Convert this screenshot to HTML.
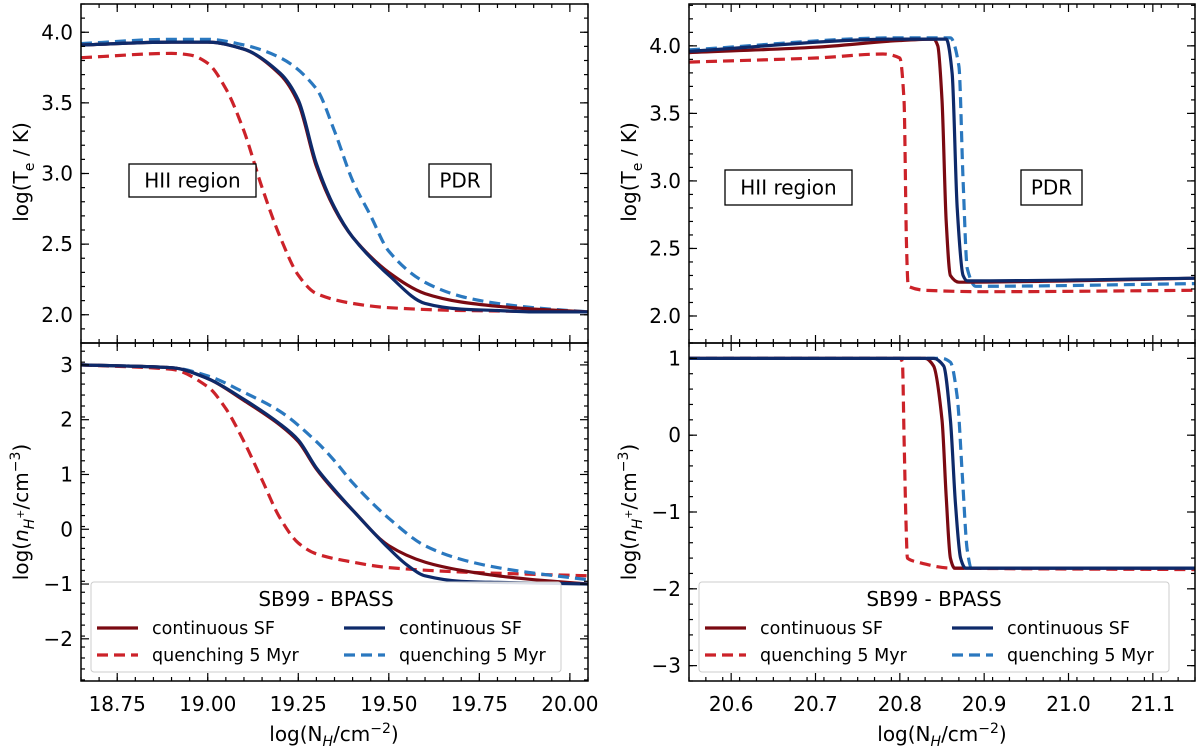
<!DOCTYPE html>
<html><head><meta charset="utf-8"><style>
body{margin:0;background:#fff;width:1200px;height:751px;overflow:hidden}
svg{font-family:"DejaVu Sans","Liberation Sans",sans-serif}
</style></head><body>
<svg id="fig" width="1200" height="751" viewBox="0 0 1200 751" xmlns="http://www.w3.org/2000/svg"></svg>
<script>
// ---- data ----
const lt_redSolid_x=[18.65,18.9,19.0,19.1,19.2,19.25,19.3,19.35,19.4,19.5,19.6,19.7,19.8,19.9,20.05];
const lt_redSolid_y=[3.91,3.93,3.93,3.88,3.7,3.5,3.05,2.75,2.55,2.3,2.15,2.09,2.06,2.04,2.02];
const lt_navy_x=[18.65,18.9,19.0,19.1,19.2,19.25,19.3,19.35,19.4,19.5,19.6,19.7,19.8,19.9,20.05];
const lt_navy_y=[3.91,3.93,3.93,3.88,3.71,3.52,3.07,2.76,2.55,2.28,2.08,2.04,2.03,2.02,2.02];
const lt_blueDash_x=[18.65,18.9,19.0,19.1,19.2,19.3,19.35,19.4,19.45,19.5,19.6,19.7,19.8,19.9,20.05];
const lt_blueDash_y=[3.92,3.95,3.95,3.91,3.82,3.6,3.3,2.95,2.7,2.45,2.23,2.13,2.08,2.05,2.02];
const lt_redDash_x=[18.65,18.9,18.95,19.0,19.05,19.1,19.15,19.2,19.25,19.3,19.4,19.5,19.7,20.05];
const lt_redDash_y=[3.82,3.85,3.84,3.78,3.6,3.3,2.9,2.55,2.28,2.15,2.08,2.05,2.03,2.02];

const lb_redSolid_x=[18.65,18.9,19.0,19.1,19.2,19.25,19.3,19.35,19.4,19.5,19.6,19.7,19.8,19.9,20.05];
const lb_redSolid_y=[3,2.95,2.75,2.35,1.9,1.6,1.1,0.7,0.35,-0.3,-0.6,-0.75,-0.85,-0.92,-1.0];
const lb_navy_x=[18.65,18.9,19.0,19.1,19.2,19.25,19.3,19.35,19.4,19.5,19.55,19.6,19.7,19.8,20.05];
const lb_navy_y=[3,2.95,2.75,2.37,1.92,1.63,1.12,0.72,0.35,-0.35,-0.65,-0.85,-0.95,-0.97,-1.0];
const lb_blueDash_x=[18.65,18.9,19.0,19.1,19.2,19.3,19.35,19.4,19.5,19.6,19.7,19.8,19.9,20.05];
const lb_blueDash_y=[3,2.95,2.8,2.5,2.15,1.6,1.25,0.85,0.2,-0.3,-0.55,-0.7,-0.8,-0.92];
const lb_redDash_x=[18.65,18.9,19.0,19.05,19.1,19.15,19.2,19.25,19.3,19.4,19.5,19.7,20.05];
const lb_redDash_y=[3,2.92,2.6,2.2,1.6,0.9,0.2,-0.25,-0.45,-0.6,-0.7,-0.78,-0.85];

const rt_redSolid_x=[20.55,20.7,20.8,20.84,20.845,20.85,20.855,20.86,20.87,21.0,21.15];
const rt_redSolid_y=[3.95,3.99,4.04,4.05,4.0,3.6,2.7,2.3,2.25,2.26,2.28];
const rt_navy_x=[20.55,20.8,20.855,20.862,20.868,20.875,20.88,21.15];
const rt_navy_y=[3.96,4.05,4.05,3.8,2.8,2.3,2.26,2.28];
const rt_blueDash_x=[20.55,20.8,20.86,20.87,20.875,20.88,20.89,21.15];
const rt_blueDash_y=[3.97,4.06,4.06,3.85,3.0,2.35,2.22,2.24];
const rt_redDash_x=[20.55,20.7,20.78,20.8,20.805,20.808,20.81,20.83,20.9,21.15];
const rt_redDash_y=[3.88,3.91,3.94,3.91,3.6,2.5,2.22,2.19,2.18,2.19];

const rb_redSolid_x=[20.55,20.83,20.84,20.85,20.855,20.86,20.865,21.15];
const rb_redSolid_y=[1,1,0.9,0.2,-0.8,-1.6,-1.73,-1.73];
const rb_navy_x=[20.55,20.84,20.852,20.86,20.866,20.872,20.878,21.15];
const rb_navy_y=[1,1,0.9,0.2,-0.9,-1.6,-1.73,-1.73];
const rb_blueDash_x=[20.55,20.85,20.86,20.868,20.874,20.88,20.885,21.15];
const rb_blueDash_y=[1,1,0.95,0.5,-0.5,-1.5,-1.73,-1.73];
const rb_redDash_x=[20.55,20.8,20.803,20.805,20.807,20.809,20.82,20.86,21.15];
const rb_redDash_y=[1,1,0.95,0,-1.0,-1.6,-1.65,-1.73,-1.75];

const leftXTicks=[18.75,19.0,19.25,19.5,19.75,20.0];
const leftXLabels=["18.75","19.00","19.25","19.50","19.75","20.00"];
const rightXTicks=[20.6,20.7,20.8,20.9,21.0,21.1];
const rightXLabels=["20.6","20.7","20.8","20.9","21.0","21.1"];
const ltYTicks=[2.0,2.5,3.0,3.5,4.0];
const ltYLabels=["2.0","2.5","3.0","3.5","4.0"];
const lbYTicks=[-2,-1,0,1,2,3];
const lbYLabels=["\u22122","\u22121","0","1","2","3"];
const rtYTicks=[2.0,2.5,3.0,3.5,4.0];
const rtYLabels=["2.0","2.5","3.0","3.5","4.0"];
const rbYTicks=[-3,-2,-1,0,1];
const rbYLabels=["\u22123","\u22122","\u22121","0","1"];

const COL={redSolid:"#7a0a12",navy:"#0e2a6a",redDash:"#cc2229",blueDash:"#2a78bf"};
const NS="http://www.w3.org/2000/svg";
const svg=document.getElementById('fig');
function mk(tag,attrs,parent){const e=document.createElementNS(NS,tag);for(const k in attrs)e.setAttribute(k,attrs[k]);(parent||svg).appendChild(e);return e;}

function monoPath(X,Y){
  const n=X.length;const d=[],m=[];
  for(let i=0;i<n-1;i++)d.push((Y[i+1]-Y[i])/(X[i+1]-X[i]));
  m[0]=d[0];m[n-1]=d[n-2];
  for(let i=1;i<n-1;i++){if(d[i-1]*d[i]<=0)m[i]=0;else m[i]=2/(1/d[i-1]+1/d[i]);}
  let p='M'+X[0].toFixed(1)+','+Y[0].toFixed(1);
  for(let i=0;i<n-1;i++){const h=X[i+1]-X[i];
    p+=' C'+(X[i]+h/3).toFixed(1)+','+(Y[i]+m[i]*h/3).toFixed(1)+' '+(X[i+1]-h/3).toFixed(1)+','+(Y[i+1]-m[i+1]*h/3).toFixed(1)+' '+X[i+1].toFixed(1)+','+Y[i+1].toFixed(1);}
  return p;
}

function panel(name,box,xd,yd,xt,xl,yt,yl,xmin,ymin,series,showX){
  const g=mk('g',{});
  
  
  const sx=v=>box.x0+(v-xd[0])/(xd[1]-xd[0])*(box.x1-box.x0);
  const sy=v=>box.y1-(v-yd[0])/(yd[1]-yd[0])*(box.y1-box.y0);
  const cid=name+'-clip';
  const cp=mk('clipPath',{id:cid},g);mk('rect',{x:box.x0,y:box.y0,width:box.x1-box.x0,height:box.y1-box.y0},cp);
  for(const s of series){
    const p=mk('path',{d:monoPath(s.x.map(sx),s.y.map(sy)),fill:'none',stroke:COL[s.c],'stroke-width':3.2,'clip-path':'url(#'+cid+')','stroke-linejoin':'round'},g);
    if(s.c.indexOf('Dash')>=0)p.setAttribute('stroke-dasharray','11,6');
    
    
  }
  const tk=mk('g',{stroke:'#000','stroke-width':1.2},g);
  for(let v=xmin;v<=xd[1]+1e-9;v+=(xt[1]-xt[0])/5){const x=sx(v);if(x<box.x0-0.5)continue;mk('line',{x1:x,x2:x,y1:box.y1,y2:box.y1-4},tk);mk('line',{x1:x,x2:x,y1:box.y0,y2:box.y0+4},tk);}
  xt.forEach(v=>{const x=sx(v);mk('line',{x1:x,x2:x,y1:box.y1,y2:box.y1-8},tk);mk('line',{x1:x,x2:x,y1:box.y0,y2:box.y0+8},tk);});
  for(let v=ymin;v<=yd[1]+1e-9;v+=(yt[1]-yt[0])/5){const y=sy(v);if(y>box.y1+0.5)continue;mk('line',{x1:box.x0,x2:box.x0+4,y1:y,y2:y},tk);mk('line',{x1:box.x1,x2:box.x1-4,y1:y,y2:y},tk);}
  yt.forEach((v,i)=>{const y=sy(v);mk('line',{x1:box.x0,x2:box.x0+8,y1:y,y2:y},tk);mk('line',{x1:box.x1,x2:box.x1-8,y1:y,y2:y},tk);
    const t=mk('text',{x:box.x0-8,y:y+7,'text-anchor':'end','font-size':20},g);t.textContent=yl[i];
    
    });
  if(showX)xt.forEach((v,i)=>{const t=mk('text',{x:sx(v),y:box.y1+30,'text-anchor':'middle','font-size':20},g);t.textContent=xl[i];
    
    });
  mk('rect',{x:box.x0,y:box.y0,width:box.x1-box.x0,height:box.y1-box.y0,fill:'none',stroke:'#000','stroke-width':1.5},g);
  return {sx,sy,g};
}
function S(p,c,n){return {x:eval(p+'_'+c+'_x'),y:eval(p+'_'+c+'_y'),c:c,n:n};}
const names={redSolid:'sb99-continuous-line',redDash:'sb99-quenching-line',navy:'bpass-continuous-line',blueDash:'bpass-quenching-line'};
const ord=['redDash','blueDash','redSolid','navy'];
const L={x0:81,x1:588},R={x0:689,x1:1195};
panel('top-left-panel',{x0:L.x0,x1:L.x1,y0:4,y1:343},[18.65,20.05],[1.8,4.2],leftXTicks,leftXLabels,ltYTicks,ltYLabels,18.65,1.8,ord.map(c=>S('lt',c,names[c])),false);
panel('bottom-left-panel',{x0:L.x0,x1:L.x1,y0:343,y1:681},[18.65,20.05],[-2.77,3.4],leftXTicks,leftXLabels,lbYTicks,lbYLabels,18.65,-2.75,ord.map(c=>S('lb',c,names[c])),true);
panel('top-right-panel',{x0:R.x0,x1:R.x1,y0:4,y1:343},[20.55,21.15],[1.8,4.31],rightXTicks,rightXLabels,rtYTicks,rtYLabels,20.55,1.8,ord.map(c=>S('rt',c,names[c])),false);
panel('bottom-right-panel',{x0:R.x0,x1:R.x1,y0:343,y1:681},[20.55,21.15],[-3.2,1.2],rightXTicks,rightXLabels,rbYTicks,rbYLabels,20.55,-3.2,ord.map(c=>S('rb',c,names[c])),true);

function txt(x,y,s,size,anchor,name,rot){const t=mk('text',{x:x,y:y,'font-size':size,'text-anchor':anchor||'middle'});t.innerHTML=s;if(rot)t.setAttribute('transform','rotate(-90 '+x+' '+y+')');
  
  return t;}
function boxLabel(x0,y0,x1,y1,s,name){const r=mk('rect',{x:x0,y:y0,width:x1-x0,height:y1-y0,fill:'#fff',stroke:'#000','stroke-width':1.3});
  
  
  txt((x0+x1)/2,(y0+y1)/2+7,s,20,'middle',name);}
boxLabel(129,164,256,197,'HII region','hii-region-label-left');
boxLabel(429,164,491,197,'PDR','pdr-label-left');
boxLabel(725,170,852,205,'HII region','hii-region-label-right');
boxLabel(1021,170,1082,205,'PDR','pdr-label-right');

txt(28,172,'log(T<tspan font-size="14" dy="6">e</tspan><tspan dy="-6"> / K)</tspan>',20,'middle','y-axis-title-top-left',true);
txt(636,172,'log(T<tspan font-size="14" dy="6">e</tspan><tspan dy="-6"> / K)</tspan>',20,'middle','y-axis-title-top-right',true);
txt(28,512,'log(<tspan font-style="italic">n</tspan><tspan font-size="14" dy="6" font-style="italic">H</tspan><tspan font-size="11" dy="-10">+</tspan><tspan dy="4">/cm</tspan><tspan font-size="14" dy="-8">−3</tspan><tspan dy="8">)</tspan>',20,'middle','y-axis-title-bottom-left',true);
txt(636,512,'log(<tspan font-style="italic">n</tspan><tspan font-size="14" dy="6" font-style="italic">H</tspan><tspan font-size="11" dy="-10">+</tspan><tspan dy="4">/cm</tspan><tspan font-size="14" dy="-8">−3</tspan><tspan dy="8">)</tspan>',20,'middle','y-axis-title-bottom-right',true);
txt(334,741,'log(N<tspan font-size="14" dy="5" font-style="italic">H</tspan><tspan dy="-5">/cm</tspan><tspan font-size="14" dy="-8">−2</tspan><tspan dy="8">)</tspan>',20,'middle','x-axis-title-left');
txt(942,741,'log(N<tspan font-size="14" dy="5" font-style="italic">H</tspan><tspan dy="-5">/cm</tspan><tspan font-size="14" dy="-8">−2</tspan><tspan dy="8">)</tspan>',20,'middle','x-axis-title-right');

function legend(x0,side){
  const g=mk('g',{});
  
  
  mk('rect',{x:x0,y:582,width:470,height:90,rx:3,fill:'#fff','fill-opacity':0.85,stroke:'#ccc','stroke-width':1},g);
  const t=mk('text',{x:x0+235,y:606,'font-size':20,'text-anchor':'middle'},g);t.textContent='SB99 - BPASS';
  const ents=[['redSolid','continuous SF',0,0],['redDash','quenching 5 Myr',0,1],['navy','continuous SF',1,0],['blueDash','quenching 5 Myr',1,1]];
  ents.forEach(e=>{const bx=x0+6+e[2]*247,by=628+e[3]*27;
    const l=mk('line',{x1:bx,x2:bx+41,y1:by,y2:by,stroke:COL[e[0]],'stroke-width':3.2},g);
    if(e[0].indexOf('Dash')>=0)l.setAttribute('stroke-dasharray','11,6');
    const tt=mk('text',{x:bx+55,y:by+6,'font-size':17.5},g);tt.textContent=e[1];
    
    });
}
legend(91,'left');legend(699,'right');
</script>
</body></html>
